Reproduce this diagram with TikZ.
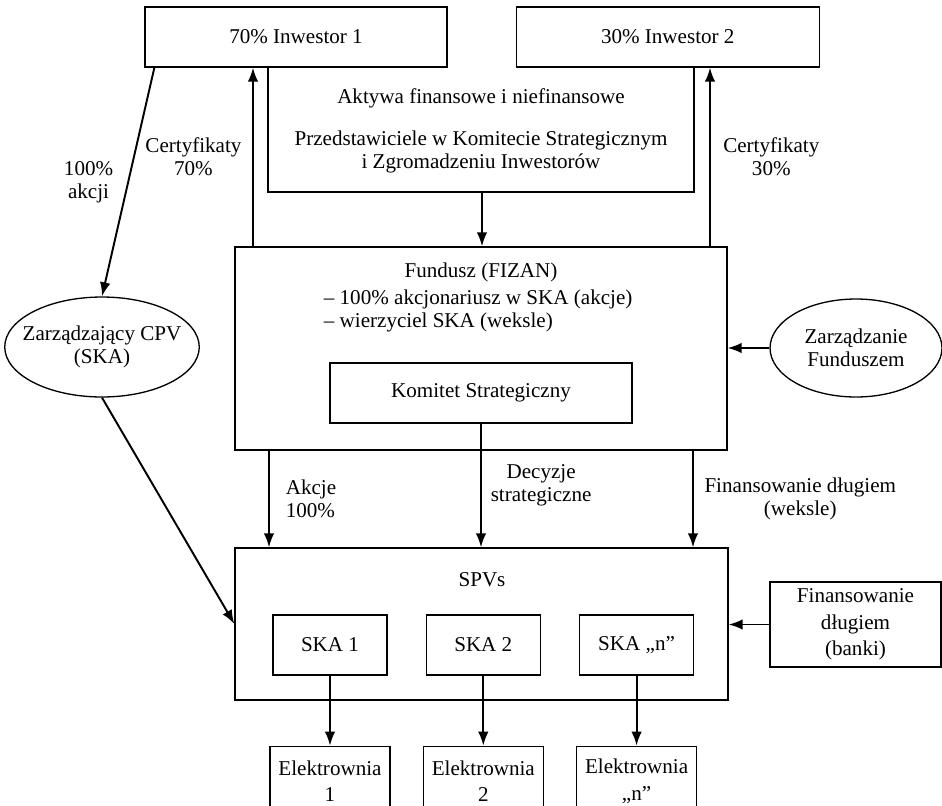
\documentclass[tikz,border=0pt]{standalone}
\usepackage{fontspec}
\setmainfont{Liberation Serif}
\usetikzlibrary{arrows.meta,positioning,shapes.geometric}
\tikzset{
  box/.style={draw, line width=0.75pt, align=center, minimum height=1.2cm, inner sep=2pt},
  oval/.style={draw, ellipse, line width=0.75pt, align=center, inner sep=0pt},
  arrow/.style={-{Latex[length=8pt,width=6pt]}, line width=1.1pt},
  link/.style={line width=1pt},
  lbl/.style={align=center, inner sep=2pt}
}

\begin{document}
\begin{tikzpicture}[x=0.02cm, y=-0.02cm, font=\fontsize{12}{13}\selectfont, node distance=0.76cm]
  \useasboundingbox (0,0) rectangle (942,805);
  \clip (0,0) rectangle (942,805);

  % investors
  \node[box, minimum width=6.04cm] (inw1) at (296,37) {70\% Inwestor 1};
  \node[box, minimum width=6.06cm, right=1.36cm of inw1] (inw2) {30\% Inwestor 2};

  % fund with committee
  \node[box, minimum width=9.84cm, minimum height=4.06cm] (fund) at (481,348.5) {};
  \node[lbl] (fundt) at (481,272) {Fundusz (FIZAN)};
  \node[lbl, align=left, anchor=west] (fundl) at (320,311) {– 100\% akcjonariusz w SKA (akcje)\\– wierzyciel SKA (weksle)};
  \node[box, minimum width=6.04cm] (kom) at (481,393) {Komitet Strategiczny};

  % contributions of investors
  \node[lbl] (akt) at (481,98) {Aktywa finansowe i niefinansowe};
  \node[lbl] (prz) at (481,152) {Przedstawiciele w Komitecie Strategicznym\\i Zgromadzeniu Inwestorów};
  \coordinate (aktl) at (268,192);
  \coordinate (aktr) at (694,192);
  \coordinate (aktm) at (482,192);

  % managers
  \node[oval, inner xsep=-6pt, minimum width=3.68cm, minimum height=2cm] (cpv) at (102,347) {Zarządzający CPV\\(SKA)};
  \node[oval, minimum width=3.44cm, minimum height=1.96cm] (zarz) at (856,348) {Zarządzanie\\Funduszem};

  % SPVs
  \node[box, minimum width=9.86cm, minimum height=3.04cm] (spv) at (481.5,624) {};
  \node[lbl] (spvt) at (482,580) {SPVs};
  \node[box, minimum width=2.28cm] (ska1) at (330,645) {SKA 1};
  \node[box, minimum width=2.28cm, right=of ska1] (ska2) {SKA 2};
  \node[box, minimum width=2.28cm, right=of ska2] (ska3) {SKA „n”};
  \node[box, minimum width=3.42cm, minimum height=1.7cm] (bank) at (855.5,624.5) {Finansowanie\\[2pt]długiem\\[2pt](banki)};

  % power plants
  \foreach \i/\t in {1/1,2/2,3/„n”}
    \node[box, minimum width=2.4cm, minimum height=1.4cm, below=1.4cm of ska\i] (el\i) {Elektrownia\\[2pt]\t};

  \coordinate (cert1) at (253,0);
  \coordinate (cert2) at (710,0);
  \coordinate (akc) at (269,0);
  \coordinate (fin) at (693,0);

  \draw[link] (aktl |- inw1.south) -- (aktl) -- (aktr) -- (aktr |- inw2.south);
  \draw[arrow] (aktm) -- (aktm |- fund.north);
  \draw[arrow] (cert1 |- fund.north) -- node[lbl, left=4pt] {Certyfikaty\\70\%} (cert1 |- inw1.south);
  \draw[arrow] (cert2 |- fund.north) -- node[lbl, right=5pt] {Certyfikaty\\30\%} (cert2 |- inw2.south);
  \draw[arrow] ([xshift=0.2cm]inw1.south west) -- node[lbl, left=6pt] {100\%\\akcji} (cpv.north);
  \draw[arrow] (cpv.south) -- (spv.west);
  \draw[arrow] (zarz.west) -- (fund.east |- zarz.west);
  \draw[arrow] (bank.west) -- (spv.east |- bank.west);

  \draw[arrow] (akc |- fund.south) -- node[lbl, right=7pt, align=left] {Akcje\\100\%} (akc |- spv.north);
  \draw[arrow] (kom.south) -- node[lbl, right=3pt] {Decyzje\\strategiczne} (kom.south |- spv.north);
  \draw[arrow] (fin |- fund.south) -- node[lbl, right=4pt] {Finansowanie długiem\\(weksle)} (fin |- spv.north);

  \foreach \i in {1,2,3}
    \draw[arrow] (ska\i) -- (el\i);
\end{tikzpicture}
\end{document}
